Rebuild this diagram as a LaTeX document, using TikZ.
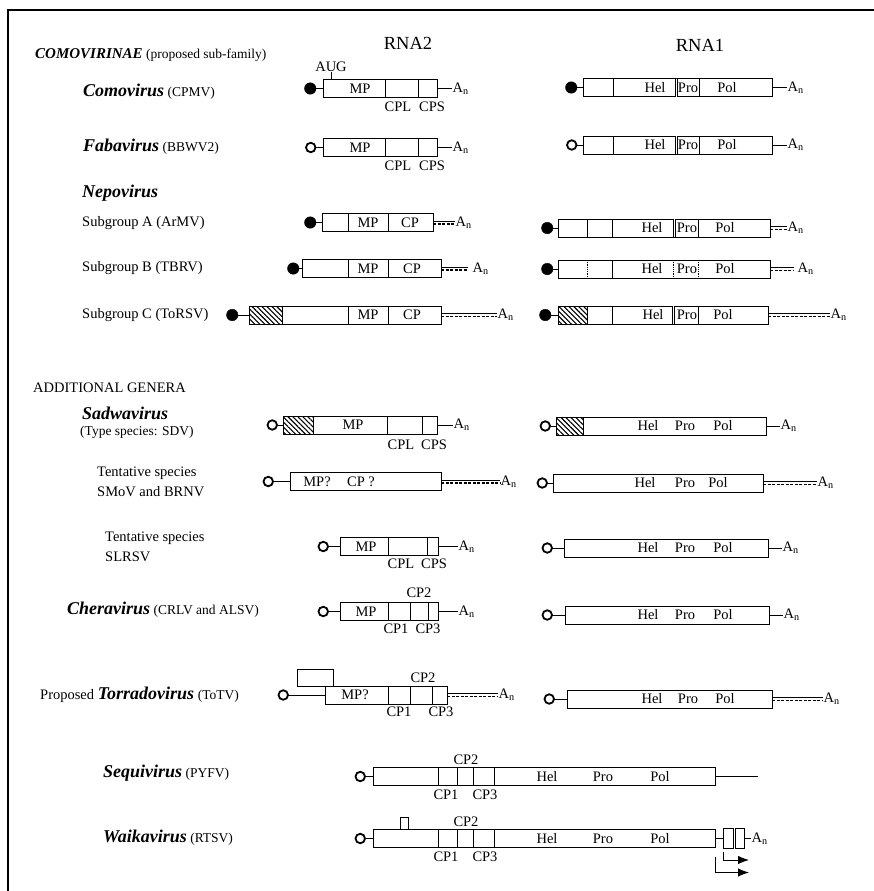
\documentclass[tikz,border=0pt]{standalone}
\usepackage{fontspec}
\setmainfont{Liberation Serif}
\usepackage{tikz}
\usetikzlibrary{positioning, arrows.meta, patterns.meta}
\newcommand{\gname}[1]{{\fontsize{18}{18}\selectfont\bfseries\itshape #1}}

\begin{document}
\begin{tikzpicture}[
    x=1pt, y=-1pt,
    genome/.style={draw, line width=1pt, rectangle, minimum height=18pt,
                   inner sep=0pt, outer sep=0pt, anchor=west},
    hatch/.style={genome, pattern={Lines[angle=-45, distance=3.5pt, line width=1.1pt]}},
    capfull/.style={circle, draw, fill, minimum size=11.5pt, inner sep=0pt, outer sep=0pt},
    capopen/.style={circle, draw, line width=1.8pt, minimum size=9.5pt, inner sep=0pt, outer sep=0pt},
    part/.style={font=\fontsize{14.5}{14.5}\selectfont, inner sep=0pt},
    polya/.style={font=\fontsize{14.5}{14.5}\selectfont, inner sep=0.5pt},
    rowlabel/.style={font=\fontsize{14.5}{20}\selectfont, inner sep=0pt, anchor=west, align=left},
    genlabel/.style={rowlabel, font=\fontsize{13.5}{13.5}\selectfont},
    head/.style={font=\fontsize{18.5}{18.5}\selectfont, inner sep=0pt},
    link/.style={line width=0.9pt},
    divider/.style={line width=0.6pt},
    dotdiv/.style={line width=0.8pt, densely dotted},
    dashtail/.style={line width=1.2pt, dash pattern=on 3pt off 1.5pt},
    arrow/.style={line width=0.9pt, -{Latex[length=11pt, width=8.5pt]}}
]
    \useasboundingbox (0,0) rectangle (874,891);
    \draw[line width=2.5pt] (8,891) -- (8,10) -- (874,10);

    \node[genlabel] (comovirinae) at (35,55)
        {{\fontsize{15}{15}\selectfont\bfseries\itshape COMOVIRINAE} (proposed sub-family)};
    \node[head] (rnatwo) at (408,43) {RNA2};
    \node[head] (rnaone) at (700,45) {RNA1};

    % Comovirus
    \node[genlabel] (como) at (83,92) {\gname{Comovirus} (CPMV)};
    \node[genome, minimum width=114pt] (como2) at (323,88.5) {};
    \node[capfull, left=7pt of como2] (como2cap) {};
    \node[polya, right=15pt of como2] (como2an) {A\textsubscript{n}};
    \draw[link] (como2cap) -- (como2);
    \draw[link] (como2) -- (como2an);
    \foreach \p in {385,418} \draw[divider] (\p,0 |- como2.north) -- (\p,0 |- como2.south);
    \node[part] (como2mp) at (360,88.5) {MP};
    \node[part] (como2cpl) at (398,107) {CPL};
    \node[part] (como2cps) at (432,107) {CPS};
    \node[part] (aug) at (331,67) {AUG};
    \draw[divider] (aug.south) -- (aug.south |- como2.north);

    \node[genome, minimum width=189pt] (como1) at (583,87.5) {};
    \node[capfull, left=6pt of como1] (como1cap) {};
    \node[polya, right=15pt of como1] (como1an) {A\textsubscript{n}};
    \draw[link] (como1cap) -- (como1);
    \draw[link] (como1) -- (como1an);
    \foreach \p in {613,699} \draw[divider] (\p,0 |- como1.north) -- (\p,0 |- como1.south);
    \draw[divider, double, double distance=1.6pt] (676.5,0 |- como1.north) -- (676.5,0 |- como1.south);
    \foreach \t/\p in {Hel/655,Pro/688,Pol/727} \node[part] (como1\t) at (\p,87.5) {\t};

    % Fabavirus
    \node[genlabel] (faba) at (83,147) {\gname{Fabavirus} (BBWV2)};
    \node[genome, minimum width=114pt] (faba2) at (323,147.5) {};
    \node[capopen, left=7.5pt of faba2] (faba2cap) {};
    \node[polya, right=15pt of faba2] (faba2an) {A\textsubscript{n}};
    \draw[link] (faba2cap) -- (faba2);
    \draw[link] (faba2) -- (faba2an);
    \foreach \p in {385,418} \draw[divider] (\p,0 |- faba2.north) -- (\p,0 |- faba2.south);
    \node[part] (faba2mp) at (360,147.5) {MP};
    \node[part] (faba2cpl) at (398,166) {CPL};
    \node[part] (faba2cps) at (432,166) {CPS};

    \node[genome, minimum width=189pt] (faba1) at (583,145) {};
    \node[capopen, left=6.5pt of faba1] (faba1cap) {};
    \node[polya, right=15pt of faba1] (faba1an) {A\textsubscript{n}};
    \draw[link] (faba1cap) -- (faba1);
    \draw[link] (faba1) -- (faba1an);
    \foreach \p in {613,699} \draw[divider] (\p,0 |- faba1.north) -- (\p,0 |- faba1.south);
    \draw[divider, double, double distance=1.6pt] (676.5,0 |- faba1.north) -- (676.5,0 |- faba1.south);
    \foreach \t/\p in {Hel/655,Pro/688,Pol/727} \node[part] (faba1\t) at (\p,145) {\t};

    % Nepovirus
    \node[rowlabel] (nepo) at (82,193) {\gname{Nepovirus}};

    \node[rowlabel] (nepa) at (82,223) {Subgroup A (ArMV)};
    \node[genome, minimum width=111pt] (nepa2) at (322,222.5) {};
    \node[capfull, left=6pt of nepa2] (nepa2cap) {};
    \node[polya, right=22pt of nepa2] (nepa2an) {A\textsubscript{n}};
    \draw[link] (nepa2cap) -- (nepa2);
    \draw[link] ([yshift=1.5pt]nepa2.east) -- ([yshift=1.5pt]nepa2an.west);
    \draw[dashtail] ([yshift=-1.5pt]nepa2.east) -- ([yshift=-1.5pt]nepa2an.west);
    \foreach \p in {348,388} \draw[divider] (\p,0 |- nepa2.north) -- (\p,0 |- nepa2.south);
    \node[part] (nepa2mp) at (368,222.5) {MP};
    \node[part] (nepa2cp) at (410,222.5) {CP};

    \node[genome, minimum width=212pt] (nepa1) at (558,228) {};
    \node[capfull, left=5pt of nepa1] (nepa1cap) {};
    \node[polya, right=17pt of nepa1] (nepa1an) {A\textsubscript{n}};
    \draw[link] (nepa1cap) -- (nepa1);
    \draw[link] ([yshift=1.5pt]nepa1.east) -- ([yshift=1.5pt]nepa1an.west);
    \draw[dashtail] ([yshift=-1.5pt]nepa1.east) -- ([yshift=-1.5pt]nepa1an.west);
    \foreach \p in {587,612,698} \draw[divider] (\p,0 |- nepa1.north) -- (\p,0 |- nepa1.south);
    \draw[divider, double, double distance=1.6pt] (674.5,0 |- nepa1.north) -- (674.5,0 |- nepa1.south);
    \foreach \t/\p in {Hel/652,Pro/687,Pol/725} \node[part] (nepa1\t) at (\p,228) {\t};

    \node[rowlabel] (nepb) at (82,268) {Subgroup B (TBRV)};
    \node[genome, minimum width=139pt] (nepb2) at (302,268.5) {};
    \node[capfull, left=3pt of nepb2] (nepb2cap) {};
    \node[polya, right=31pt of nepb2] (nepb2an) {A\textsubscript{n}};
    \draw[link] (nepb2cap) -- (nepb2);
    \draw[link] ([yshift=1.5pt]nepb2.east) -- ([yshift=1.5pt,xshift=-4pt]nepb2an.west);
    \draw[dashtail] ([yshift=-1.5pt]nepb2.east) -- ([yshift=-1.5pt,xshift=-4pt]nepb2an.west);
    \foreach \p in {348,388} \draw[divider] (\p,0 |- nepb2.north) -- (\p,0 |- nepb2.south);
    \node[part] (nepb2mp) at (368,268.5) {MP};
    \node[part] (nepb2cp) at (412,268.5) {CP};

    \node[genome, minimum width=212pt] (nepb1) at (558,269) {};
    \node[capfull, left=5pt of nepb1] (nepb1cap) {};
    \node[polya, right=27pt of nepb1] (nepb1an) {A\textsubscript{n}};
    \draw[link] (nepb1cap) -- (nepb1);
    \draw[link] ([yshift=1.5pt]nepb1.east) -- ([yshift=1.5pt,xshift=-3pt]nepb1an.west);
    \draw[dashtail] ([yshift=-1.5pt]nepb1.east) -- ([yshift=-1.5pt,xshift=-3pt]nepb1an.west);
    \draw[divider] (612,0 |- nepb1.north) -- (612,0 |- nepb1.south);
    \foreach \p in {587,673,698} \draw[dotdiv] (\p,0 |- nepb1.north) -- (\p,0 |- nepb1.south);
    \foreach \t/\p in {Hel/652,Pro/687,Pol/725} \node[part] (nepb1\t) at (\p,269) {\t};

    \node[rowlabel] (nepc) at (82,315) {Subgroup C (ToRSV)};
    \node[genome, minimum width=192pt] (nepc2) at (249,315) {};
    \node[hatch, minimum width=33pt] (nepc2utr) at (249,315) {};
    \node[capfull, left=11pt of nepc2] (nepc2cap) {};
    \node[polya, right=56pt of nepc2] (nepc2an) {A\textsubscript{n}};
    \draw[link] (nepc2cap) -- (nepc2utr);
    \draw[link] ([yshift=1.5pt]nepc2.east) -- ([yshift=1.5pt]nepc2an.west);
    \draw[dashtail] ([yshift=-1.5pt]nepc2.east) -- ([yshift=-1.5pt]nepc2an.west);
    \foreach \p in {348,388} \draw[divider] (\p,0 |- nepc2.north) -- (\p,0 |- nepc2.south);
    \node[part] (nepc2mp) at (368,315) {MP};
    \node[part] (nepc2cp) at (412,315) {CP};

    \node[genome, minimum width=210pt] (nepc1) at (558,315) {};
    \node[hatch, minimum width=29pt] (nepc1utr) at (558,315) {};
    \node[capfull, left=7pt of nepc1] (nepc1cap) {};
    \node[polya, right=62pt of nepc1] (nepc1an) {A\textsubscript{n}};
    \draw[link] (nepc1cap) -- (nepc1utr);
    \draw[link] ([yshift=1.5pt]nepc1.east) -- ([yshift=1.5pt]nepc1an.west);
    \draw[dashtail] ([yshift=-1.5pt]nepc1.east) -- ([yshift=-1.5pt]nepc1an.west);
    \foreach \p in {612,698} \draw[divider] (\p,0 |- nepc1.north) -- (\p,0 |- nepc1.south);
    \draw[divider, double, double distance=1.6pt] (673.5,0 |- nepc1.north) -- (673.5,0 |- nepc1.south);
    \foreach \t/\p in {Hel/653,Pro/687,Pol/723} \node[part] (nepc1\t) at (\p,315) {\t};

    % additional genera
    \node[rowlabel] (addgen) at (33,388) {ADDITIONAL GENERA};

    \node[rowlabel] (sadw) at (82,413) {\gname{Sadwavirus}};
    \node[genlabel] (sadwtype) at (80,432) {(Type species: SDV)};
    \node[genome, minimum width=154pt] (sadw2) at (283,425) {};
    \node[hatch, minimum width=30pt] (sadw2utr) at (283,425) {};
    \node[capopen, left=6pt of sadw2] (sadw2cap) {};
    \node[polya, right=16pt of sadw2] (sadw2an) {A\textsubscript{n}};
    \draw[link] (sadw2cap) -- (sadw2utr);
    \draw[link] (sadw2) -- (sadw2an);
    \foreach \p in {387,422} \draw[divider] (\p,0 |- sadw2.north) -- (\p,0 |- sadw2.south);
    \node[part] (sadw2mp) at (353,425) {MP};
    \node[part] (sadw2cpl) at (401,445) {CPL};
    \node[part] (sadw2cps) at (434,445) {CPS};

    \node[genome, minimum width=210pt] (sadw1) at (556,426) {};
    \node[hatch, minimum width=27pt] (sadw1utr) at (556,426) {};
    \node[capopen, left=6pt of sadw1] (sadw1cap) {};
    \node[polya, right=14pt of sadw1] (sadw1an) {A\textsubscript{n}};
    \draw[link] (sadw1cap) -- (sadw1utr);
    \draw[link] (sadw1) -- (sadw1an);
    \foreach \t/\p in {Hel/648,Pro/685,Pol/723} \node[part] (sadw1\t) at (\p,426) {\t};

    \node[rowlabel] (smov) at (97,482) {Tentative species\\SMoV and BRNV};
    \node[genome, minimum width=151pt] (smov2) at (290,481.5) {};
    \node[capopen, left=17pt of smov2] (smov2cap) {};
    \node[polya, right=59pt of smov2] (smov2an) {A\textsubscript{n}};
    \draw[link] (smov2cap) -- (smov2);
    \draw[link] ([yshift=1.5pt]smov2.east) -- ([yshift=1.5pt]smov2an.west);
    \draw[dashtail] ([yshift=-1.5pt]smov2.east) -- ([yshift=-1.5pt]smov2an.west);
    \node[part] (smov2mp) at (317,481.5) {MP?};
    \node[part] (smov2cp) at (361,481.5) {CP ?};

    \node[genome, minimum width=210pt] (smov1) at (553,483) {};
    \node[capopen, left=6pt of smov1] (smov1cap) {};
    \node[polya, right=54pt of smov1] (smov1an) {A\textsubscript{n}};
    \draw[link] (smov1cap) -- (smov1);
    \draw[link] ([yshift=1.5pt]smov1.east) -- ([yshift=1.5pt]smov1an.west);
    \draw[dashtail] ([yshift=-1.5pt]smov1.east) -- ([yshift=-1.5pt]smov1an.west);
    \foreach \t/\p in {Hel/645,Pro/685,Pol/718} \node[part] (smov1\t) at (\p,483) {\t};

    \node[rowlabel] (slrsv) at (105,547) {Tentative species\\SLRSV};
    \node[genome, minimum width=98pt] (slrsv2) at (340,546.5) {};
    \node[capopen, left=12pt of slrsv2] (slrsv2cap) {};
    \node[polya, right=20pt of slrsv2] (slrsv2an) {A\textsubscript{n}};
    \draw[link] (slrsv2cap) -- (slrsv2);
    \draw[link] (slrsv2) -- (slrsv2an);
    \foreach \p in {388,427} \draw[divider] (\p,0 |- slrsv2.north) -- (\p,0 |- slrsv2.south);
    \node[part] (slrsv2mp) at (366,546.5) {MP};
    \node[part] (slrsv2cpl) at (401,564) {CPL};
    \node[part] (slrsv2cps) at (434,564) {CPS};

    \node[genome, minimum width=204pt] (slrsv1) at (564,548) {};
    \node[capopen, left=12pt of slrsv1] (slrsv1cap) {};
    \node[polya, right=14pt of slrsv1] (slrsv1an) {A\textsubscript{n}};
    \draw[link] (slrsv1cap) -- (slrsv1);
    \draw[link] (slrsv1) -- (slrsv1an);
    \foreach \t/\p in {Hel/648,Pro/685,Pol/723} \node[part] (slrsv1\t) at (\p,548) {\t};

    % Cheravirus
    \node[genlabel] (chera) at (67,610) {\gname{Cheravirus} (CRLV and ALSV)};
    \node[genome, minimum width=98pt] (chera2) at (340,611.5) {};
    \node[capopen, left=12pt of chera2] (chera2cap) {};
    \node[polya, right=20pt of chera2] (chera2an) {A\textsubscript{n}};
    \draw[link] (chera2cap) -- (chera2);
    \draw[link] (chera2) -- (chera2an);
    \foreach \p in {388,410,428} \draw[divider] (\p,0 |- chera2.north) -- (\p,0 |- chera2.south);
    \node[part] (chera2mp) at (366,611.5) {MP};
    \node[part] (chera2cptwo) at (419,593) {CP2};
    \node[part] (chera2cpone) at (396,629) {CP1};
    \node[part] (chera2cpthree) at (428,629) {CP3};

    \node[genome, minimum width=204pt] (chera1) at (565,615) {};
    \node[capopen, left=13pt of chera1] (chera1cap) {};
    \node[polya, right=14pt of chera1] (chera1an) {A\textsubscript{n}};
    \draw[link] (chera1cap) -- (chera1);
    \draw[link] (chera1) -- (chera1an);
    \foreach \t/\p in {Hel/648,Pro/685,Pol/723} \node[part] (chera1\t) at (\p,615) {\t};

    % Torradovirus
    \node[rowlabel] (torr) at (40,695) {Proposed \gname{Torradovirus} {\fontsize{13.5}{13.5}\selectfont(ToTV)}};
    \node[genome, minimum width=122pt] (torr2) at (325,695) {};
    \node[genome, minimum width=36pt, minimum height=17pt, anchor=south west] (torr2orf) at (297,686) {};
    \node[capopen, left=37pt of torr2] (torr2cap) {};
    \node[polya, right=51pt of torr2] (torr2an) {A\textsubscript{n}};
    \draw[link] (torr2cap) -- (torr2);
    \draw[link] ([yshift=1.5pt]torr2.east) -- ([yshift=1.5pt]torr2an.west);
    \draw[dashtail] ([yshift=-1.5pt]torr2.east) -- ([yshift=-1.5pt]torr2an.west);
    \foreach \p in {388,410,432} \draw[divider] (\p,0 |- torr2.north) -- (\p,0 |- torr2.south);
    \node[part] (torr2mp) at (355,695) {MP?};
    \node[part] (torr2cptwo) at (423,678) {CP2};
    \node[part] (torr2cpone) at (399,712) {CP1};
    \node[part] (torr2cpthree) at (441,712) {CP3};

    \node[genome, minimum width=205pt] (torr1) at (567,699) {};
    \node[capopen, left=13pt of torr1] (torr1cap) {};
    \node[polya, right=51pt of torr1] (torr1an) {A\textsubscript{n}};
    \draw[link] (torr1cap) -- (torr1);
    \draw[link] ([yshift=1.5pt]torr1.east) -- ([yshift=1.5pt]torr1an.west);
    \draw[dashtail] ([yshift=-1.5pt]torr1.east) -- ([yshift=-1.5pt]torr1an.west);
    \foreach \t/\p in {Hel/652,Pro/688,Pol/725} \node[part] (torr1\t) at (\p,699) {\t};

    % Sequivirus
    \node[genlabel] (sequilbl) at (103,773) {\gname{Sequivirus} (PYFV)};
    \node[genome, minimum width=342pt] (sequi) at (373,776.5) {};
    \node[capopen, left=8pt of sequi] (sequicap) {};
    \coordinate[right=43pt of sequi] (sequiend);
    \draw[link] (sequicap) -- (sequi);
    \draw[link] (sequi) -- (sequiend);
    \foreach \p in {438,457,473,494} \draw[divider] (\p,0 |- sequi.north) -- (\p,0 |- sequi.south);
    \node[part] (sequicptwo) at (466,760) {CP2};
    \node[part] (sequicpone) at (446,795) {CP1};
    \node[part] (sequicpthree) at (485,795) {CP3};
    \foreach \t/\p in {Hel/547,Pro/603,Pol/660} \node[part] (sequi\t) at (\p,776.5) {\t};

    % Waikavirus
    \node[genlabel] (waikalbl) at (103,838) {\gname{Waikavirus} (RTSV)};
    \node[genome, minimum width=342pt] (waika) at (373,838.5) {};
    \node[genome, minimum width=8pt, minimum height=12pt, anchor=south west] (waikaorf) at (400,829.5) {};
    \node[capopen, left=8pt of waika] (waikacap) {};
    \draw[link] (waikacap) -- (waika);
    \foreach \p in {438,457,473,494} \draw[divider] (\p,0 |- waika.north) -- (\p,0 |- waika.south);
    \node[part] (waikacptwo) at (466,822) {CP2};
    \node[part] (waikacpone) at (446,857) {CP1};
    \node[part] (waikacpthree) at (485,857) {CP3};
    \foreach \t/\p in {Hel/547,Pro/603,Pol/660} \node[part] (waika\t) at (\p,838.5) {\t};
    \node[genome, minimum width=10pt, minimum height=20pt, right=8pt of waika] (waikasga) {};
    \node[genome, minimum width=9pt, minimum height=20pt, right=2pt of waikasga] (waikasgb) {};
    \node[polya, right=7pt of waikasgb] (waikaan) {A\textsubscript{n}};
    \draw[link] (waika) -- (waikasga);
    \draw[link] (waikasgb) -- (waikaan);
    \coordinate (waikaenda) at ([xshift=26pt, yshift=-11.5pt]waikasga.south west);
    \coordinate (waikaendb) at ([xshift=34pt, yshift=-25pt]waika.south east);
    \draw[arrow] ([yshift=-3pt]waikasga.south west) |- (waikaenda);
    \draw[arrow] ([yshift=-9pt]waika.south east) |- (waikaendb);
\end{tikzpicture}
\end{document}
